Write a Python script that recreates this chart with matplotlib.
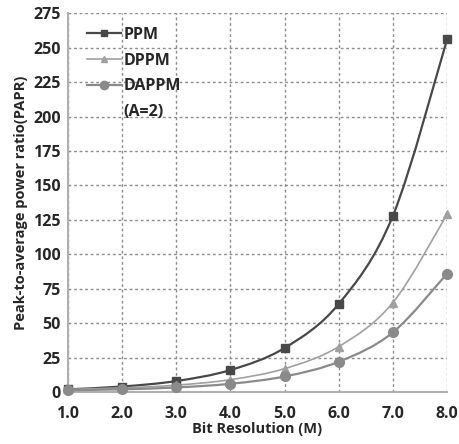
import matplotlib.pyplot as plt
import numpy as np
from matplotlib.path import Path
from matplotlib.patches import PathPatch

plt.rcParams['font.family'] = ['Open Sans', 'DejaVu Sans']
plt.rcParams['font.weight'] = 'bold'

# Data
bits = [1, 2, 3, 4, 5, 6, 7, 8]
papr_ppm = [2, 4, 8, 16, 32, 64, 128, 256]
papr_dppm = [2, 3, 5, 9, 17, 33, 65, 129]
papr_dappm = [1.33, 2, 3.33, 6, 11.33, 22, 43.33, 86]


def smooth_path(x, y):
    # Excel-like smoothed line drawn as cubic Bezier segments
    x = np.asarray(x, float)
    y = np.asarray(y, float)
    px = np.concatenate([[x[0]], x, [x[-1]]])
    py = np.concatenate([[y[0]], y, [y[-1]]])
    verts = [(x[0], y[0])]
    codes = [Path.MOVETO]
    for i in range(1, len(x)):
        c1 = (px[i] + (px[i + 1] - px[i - 1]) / 6, py[i] + (py[i + 1] - py[i - 1]) / 6)
        c2 = (px[i + 1] - (px[i + 2] - px[i]) / 6, py[i + 1] - (py[i + 2] - py[i]) / 6)
        verts += [c1, c2, (px[i + 1], py[i + 1])]
        codes += [Path.CURVE4] * 3
    return Path(verts, codes)


fig = plt.figure(figsize=(4.59, 4.44), dpi=100)
ax = fig.add_axes([0.148, 0.117, 0.826, 0.853])

series = [
    (papr_ppm, 's', '#484848', 1.6, 6, 'PPM'),
    (papr_dppm, '^', '#a0a0a0', 1.2, 6, 'DPPM'),
    (papr_dappm, 'o', '#8a8a8a', 1.6, 7, 'DAPPM'),
]
for vals, mk, col, lw, ms, lab in series:
    ax.add_patch(PathPatch(smooth_path(bits, vals), fill=False, edgecolor=col,
                           lw=lw, zorder=3, clip_on=False))
    ax.plot(bits, vals, ls='none', marker=mk, color=col, ms=ms, zorder=4,
            clip_on=False)
    ax.plot([], [], marker=mk, color=col, lw=lw, ms=ms - 1, label=lab)
# second line of the DAPPM legend entry
ax.plot([], [], ls='none', label='(A=2)')

ax.set_xlim(1, 8)
ax.set_ylim(0, 275)
ax.set_xticks(bits)
ax.set_xticklabels([f'{b:.1f}' for b in bits])
ax.set_yticks(np.arange(0, 276, 25))

ax.grid(True, color='#8c8c8c', ls=(0, (2, 2)), lw=1)
ax.set_axisbelow(True)
for s in ['top', 'right']:
    ax.spines[s].set_visible(False)
for s in ['left', 'bottom']:
    ax.spines[s].set_color('#b0b0b0')
    ax.spines[s].set_linewidth(1.5)
ax.tick_params(length=0, labelsize=11.5, colors='#262626')
ax.tick_params(axis='x', pad=10)
ax.tick_params(axis='y', pad=5)

ax.set_xlabel('Bit Resolution (M)', fontsize=10.5, fontweight='bold',
              color='#262626', labelpad=0)
ax.set_ylabel('Peak-to-average power ratio(PAPR)', fontsize=10.5,
              fontweight='bold', color='#262626', labelpad=4)

leg = ax.legend(loc='upper left', bbox_to_anchor=(0.025, 0.99), frameon=False,
                fontsize=11.5, handlelength=2.1, handletextpad=0.2,
                labelspacing=0.62, borderaxespad=0.2)
for t in leg.get_texts():
    t.set_color('#262626')

fig.savefig('out.png', dpi=100)
